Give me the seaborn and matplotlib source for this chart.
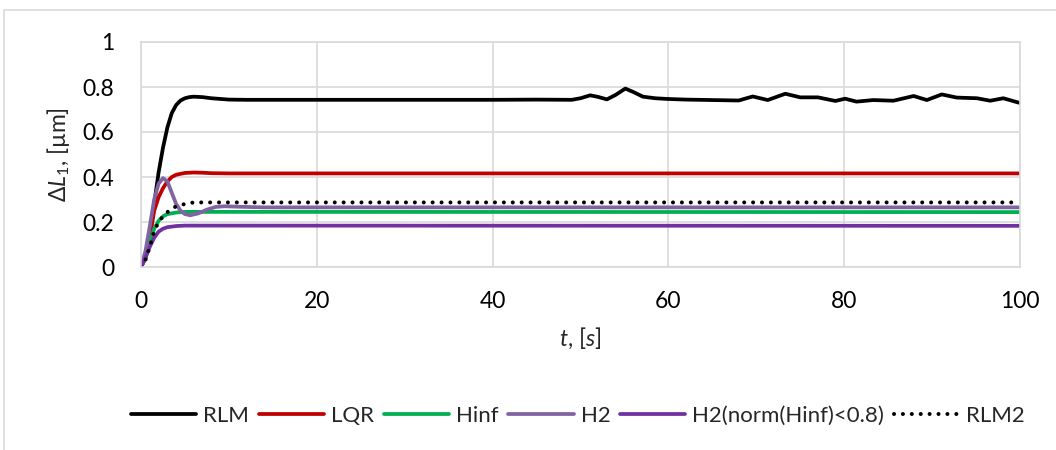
import matplotlib
matplotlib.use("Agg")
import matplotlib.pyplot as plt
import seaborn as sns
from matplotlib.patches import Rectangle

# ---- step responses of the controllers ----
t_rlm = [0, 0.5, 1, 1.5, 2, 2.5, 3, 3.5, 4, 4.5, 5, 5.5, 6, 7, 8, 9, 10, 12, 15, 20, 30, 40,
         45, 49, 50, 51.1, 52, 53, 54, 55.1, 56, 57.1, 58.5, 59.8, 62, 65, 68, 69.6, 71.3,
         73.3, 75, 77, 79, 80.1, 81.4, 83.3, 85.6, 87.9, 89.4, 91.1, 92.8, 95.1, 96.6, 98.1,
         99.8, 100]
rlm = [0, 0.04, 0.14, 0.28, 0.42, 0.53, 0.62, 0.684, 0.72, 0.74, 0.75, 0.755, 0.757, 0.755,
       0.75, 0.747, 0.744, 0.743, 0.743, 0.743, 0.743, 0.743,
       0.744, 0.743, 0.75, 0.763, 0.756, 0.745, 0.765, 0.793, 0.778, 0.757, 0.75, 0.747,
       0.744, 0.742, 0.74, 0.758, 0.742, 0.77, 0.754, 0.754, 0.738, 0.748, 0.735, 0.742,
       0.739, 0.76, 0.742, 0.767, 0.753, 0.75, 0.739, 0.75, 0.731, 0.73]

t_lqr = [0, 0.5, 1, 1.5, 2, 2.5, 3, 3.5, 4, 5, 6, 7, 8, 10, 100]
lqr = [0, 0.04, 0.13, 0.25, 0.31, 0.35, 0.38, 0.40, 0.41, 0.418, 0.42, 0.419, 0.417, 0.416, 0.416]

t_hinf = [0, 0.5, 1, 1.5, 2, 2.5, 3, 4, 5, 100]
hinf = [0, 0.04, 0.11, 0.17, 0.205, 0.225, 0.235, 0.242, 0.245, 0.244]

t_h2 = [0, 0.5, 1, 1.5, 2, 2.5, 3, 3.5, 4, 4.5, 5, 5.6, 6.5, 7.5, 8.5, 9.5, 11, 14, 100]
h2 = [0, 0.07, 0.18, 0.3, 0.37, 0.395, 0.38, 0.33, 0.28, 0.25, 0.235, 0.23, 0.238, 0.255,
      0.267, 0.27, 0.268, 0.265, 0.265]

t_h2n = [0, 0.5, 1, 1.5, 2, 2.5, 3, 4, 5, 100]
h2n = [0, 0.04, 0.09, 0.13, 0.157, 0.17, 0.177, 0.182, 0.184, 0.183]

t_rlm2 = [0, 0.5, 1, 1.5, 2, 2.5, 3, 3.5, 4, 5, 6, 100]
rlm2 = [0, 0.03, 0.09, 0.16, 0.2, 0.225, 0.244, 0.258, 0.27, 0.28, 0.287, 0.287]

series = [
    ("RLM", t_rlm, rlm, "#000000", "-"),
    ("LQR", t_lqr, lqr, "#C00000", "-"),
    ("Hinf", t_hinf, hinf, "#00B050", "-"),
    ("H2", t_h2, h2, "#8064A2", "-"),
    ("H2(norm(Hinf)<0.8)", t_h2n, h2n, "#7030A0", "-"),
    ("RLM2", t_rlm2, rlm2, "#000000", (0, (0.01, 2.2))),
]

x_ticks = [0, 20, 40, 60, 80, 100]
y_ticks = [0, 0.2, 0.4, 0.6, 0.8, 1]
y_tick_labels = ["0", "0.2", "0.4", "0.6", "0.8", "1"]

sns.set_theme(style="white")
plt.rcParams["font.family"] = ["Lato", "DejaVu Sans"]
plt.rcParams["mathtext.fontset"] = "custom"
plt.rcParams["mathtext.rm"] = "Lato"
plt.rcParams["mathtext.it"] = "Lato:italic"

FS = 16.5
grid_c = "#D9D9D9"
fig = plt.figure(figsize=(10.56, 4.5), dpi=100)
ax = fig.add_axes([141 / 1056, 1 - 267 / 450, (1020 - 141) / 1056, (267 - 42) / 450])

for name, tt, vv, col, ls in series:
    sns.lineplot(x=tt, y=vv, ax=ax, color=col, label=name, sort=False,
                 linewidth=2.7 if ls == "-" else 2.9, linestyle=ls)
for line in ax.get_lines():
    line.set_solid_joinstyle("round")
    line.set_dash_capstyle("round")

ax.set_xlim(0, 100)
ax.set_ylim(0, 1)
ax.set_xticks(x_ticks)
ax.set_yticks(y_ticks)
ax.set_yticklabels(y_tick_labels)
ax.grid(True, color=grid_c, linewidth=1.2)
ax.set_axisbelow(True)
for sp in ax.spines.values():
    sp.set_color(grid_c)
    sp.set_linewidth(1.2)
ax.tick_params(axis="y", length=0, labelsize=FS, colors="#000000", pad=19)
ax.tick_params(axis="x", length=0, labelsize=FS, colors="#000000", pad=17)

ax.set_xlabel(r"$t$, [$s$]", fontsize=FS, labelpad=10)
ax.set_ylabel(r"Δ$L_1$, [µm]", fontsize=FS, labelpad=8)

leg = ax.legend(loc="center", bbox_to_anchor=(0.497, -0.662), ncol=6, frameon=False,
                fontsize=16, handlelength=2.95, columnspacing=0.42, handletextpad=0.32)

# chart frame
fig.patches.append(Rectangle((4 / 1056, -0.1), 1.2, 1 - 10 / 450 + 0.1,
                             transform=fig.transFigure, fill=False,
                             edgecolor=grid_c, linewidth=1.2))

fig.savefig("out.png", dpi=100)
